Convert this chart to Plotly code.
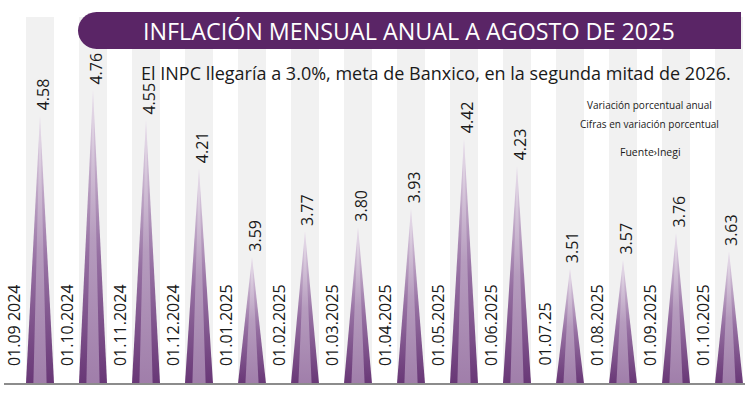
import plotly.graph_objects as go

# ---------------- data ----------------
dates = ["01.09 2024", "01.10.2024", "01.11.2024", "01.12.2024", "01.01.2025",
         "01.02.2025", "01.03.2025", "01.04.2025", "01.05.2025", "01.06.2025",
         "01.07.25", "01.08.2025", "01.09.2025", "01.10.2025"]
values = [4.58, 4.76, 4.55, 4.21, 3.59, 3.77, 3.80, 3.93, 4.42, 4.23,
          3.51, 3.57, 3.76, 3.63]

title = "INFLACIÓN MENSUAL ANUAL A AGOSTO DE 2025"
subtitle = "El INPC llegaría a 3.0%, meta de Banxico, en la segunda mitad de 2026."
notes = ["Variación porcentual anual", "Cifras en variación porcentual"]
source = "Fuente›Inegi"

# ---------------- layout constants ----------------
W, H = 750, 399
BASE = 2.701                     # value at which spikes start
Y_RANGE = [2.596, 5.390]
X_RANGE = [-40 / 53, (W - 40) / 53]
COL_TOP = 5.271
HW_OUT = 0.265
HW_IN = 0.125
PURPLE = "#5a2566"
FONT = "Open Sans"


def px(x):
    return x / W


def py(y):
    return 1 - y / H


fig = go.Figure()

# background columns
shapes = []
for i in range(len(values)):
    shapes.append(dict(type="rect", xref="x", yref="y", x0=i - HW_OUT, x1=i + HW_OUT,
                       y0=BASE, y1=COL_TOP, fillcolor="#f1f1f1", line=dict(width=0),
                       layer="below"))

# spikes
for i, v in enumerate(values):
    fig.add_trace(go.Scatter(
        x=[i - HW_OUT, i, i + HW_OUT, i - HW_OUT], y=[BASE, v, BASE, BASE],
        mode="lines", fill="toself", line=dict(width=0, color="rgba(0,0,0,0)"),
        fillgradient=dict(type="vertical",
                          colorscale=[[0, "rgb(104,55,118)"], [0.45, "rgb(150,112,162)"],
                                      [1, "rgb(232,222,235)"]]),
        hoverinfo="skip", showlegend=False))
    fig.add_trace(go.Scatter(
        x=[i - HW_IN, i, i + HW_IN, i - HW_IN], y=[BASE, v, BASE, BASE],
        mode="lines", fill="toself", line=dict(width=0, color="rgba(0,0,0,0)"),
        fillgradient=dict(type="vertical",
                          colorscale=[[0, "rgb(160,126,170)"], [0.5, "rgb(182,156,190)"],
                                      [1, "rgb(236,228,238)"]]),
        hoverinfo="skip", showlegend=False))

# baseline
shapes.append(dict(type="line", xref="paper", yref="y", x0=px(4), x1=px(745),
                   y0=BASE, y1=BASE, line=dict(color="#8c8c8c", width=2)))

# title bar with rounded left end
x0, x1, t, b = 78, 741, 12, 49
r = (b - t) / 2
cx = x0 + r
k = 0.5523 * r
path = (f"M {px(cx)},{py(t)} L {px(x1)},{py(t)} L {px(x1)},{py(b)} L {px(cx)},{py(b)} "
        f"C {px(cx - k)},{py(b)} {px(x0)},{py(t + r + k)} {px(x0)},{py(t + r)} "
        f"C {px(x0)},{py(t + r - k)} {px(cx - k)},{py(t)} {px(cx)},{py(t)} Z")
shapes.append(dict(type="path", xref="paper", yref="paper", path=path,
                   fillcolor=PURPLE, line=dict(width=0)))

annotations = []
annotations.append(dict(xref="paper", yref="paper", x=px(409), y=py(31), text=title,
                        showarrow=False, font=dict(family=FONT, size=23.3, color="white"),
                        xanchor="center", yanchor="middle"))
annotations.append(dict(xref="paper", yref="paper", x=px(436), y=py(73), text=subtitle,
                        showarrow=False, font=dict(family=FONT, size=18, color="#1a1a1a"),
                        xanchor="center", yanchor="middle"))
for j, (note, yy) in enumerate(zip(notes, [105, 124])):
    annotations.append(dict(xref="paper", yref="paper", x=px(649), y=py(yy), text=note,
                            showarrow=False, font=dict(family=FONT, size=10, color="#1a1a1a"),
                            xanchor="center", yanchor="middle"))
annotations.append(dict(xref="paper", yref="paper", x=px(650), y=py(152), text=source,
                        showarrow=False, font=dict(family=FONT, size=10.5, color="#1a1a1a"),
                        xanchor="center", yanchor="middle"))

for i, (d, v) in enumerate(zip(dates, values)):
    annotations.append(dict(xref="x", yref="paper", x=i - 0.49, y=py(368), text=d,
                            textangle=-90, showarrow=False,
                            font=dict(family=FONT, size=16, color="#1a1a1a"),
                            xanchor="center", yanchor="bottom"))
    annotations.append(dict(xref="x", yref="y", x=i + 0.05, y=v, yshift=3,
                            text=f"{v:.2f}", textangle=-90, showarrow=False,
                            font=dict(family=FONT, size=16, color="#1a1a1a"),
                            xanchor="center", yanchor="bottom"))

fig.update_layout(
    width=W, height=H, margin=dict(l=0, r=0, t=0, b=0),
    paper_bgcolor="white", plot_bgcolor="white",
    xaxis=dict(range=X_RANGE, visible=False, fixedrange=True),
    yaxis=dict(range=Y_RANGE, visible=False, fixedrange=True),
    shapes=shapes, annotations=annotations, showlegend=False,
)

fig.write_html("out.html", config={"displayModeBar": False},
               post_script="document.body.style.margin='0';document.body.style.overflow='hidden';")
